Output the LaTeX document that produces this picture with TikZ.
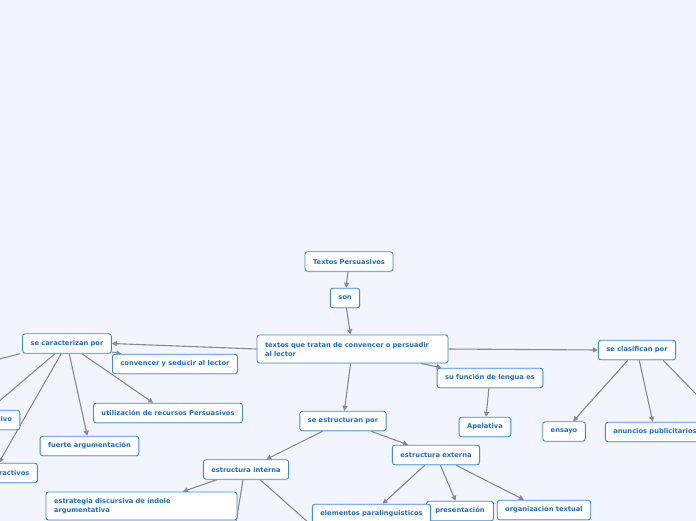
\documentclass[tikz,border=0pt]{standalone}
\usepackage{fontspec}
\setmainfont{DejaVu Sans}
\usepackage{xcolor}
\usetikzlibrary{positioning, arrows.meta, shadows, backgrounds}

\definecolor{paper}{RGB}{242,245,254}
\definecolor{topicline}{RGB}{58,140,230}
\definecolor{topictext}{RGB}{28,108,208}
\definecolor{linkgray}{RGB}{138,138,142}

\begin{document}
\begin{tikzpicture}[
  x=1pt, y=-1pt,
  every node/.style={font=\bfseries\fontsize{6.7}{9}\selectfont},
  topic/.style={draw=topicline, line width=0.9pt, fill=white, rounded corners=2.5pt,
    text=topictext, inner xsep=8pt, inner ysep=2pt, minimum height=19.5pt,
    drop shadow={opacity=0.12, shadow xshift=0.4pt, shadow yshift=-1pt}},
  wide/.style={topic, text width=175pt, align=left, minimum height=28pt},
  arrow/.style={linkgray, line width=1.1pt, -{Triangle[length=5pt, width=5pt]}}
]
\useasboundingbox (0,0) rectangle (696,520);
\clip (0,0) rectangle (696,520);

% Nodes
\node[topic] (title) at (349,261.5) {Textos Persuasivos};
\node[topic] (son) at (345,298) {son};
\node[wide] (txt) at (352.5,349) {textos que tratan de convencer o persuadir\\al lector};

\node[topic] (car) at (67,343.5) {se caracterizan por};
\node[topic] (conv) at (175,364) {convencer y seducir al lector};
\node[topic] (util) at (168,413) {utilización de recursos Persuasivos};
\node[topic] (fuerte) at (89.5,446) {fuerte argumentación};
\node[topic] (subj) at (-23,420) {lenguaje subjetivo};
\node[topic] (atrac) at (-7,473) {recursos atractivos};

\node[topic] (estr) at (343,421) {se estructuran por};
\node[topic] (int) at (246,469.5) {estructura interna};
\node[wide] (strat) at (141.5,506) {estrategia discursiva de índole\\argumentativa};
\node[topic] (ext) at (436,455) {estructura externa};
\node[topic, minimum width=67pt] (pres) at (460,511) {presentación};
\node[topic] (para) at (371.5,514) {elementos paralinguisticos};
\node[topic] (org) at (544,510) {organización textual};

\node[topic] (func) at (490,378) {su función de lengua es};
\node[topic] (apel) at (485,427) {Apelativa};

\node[topic] (cla) at (637,350) {se clasifican por};
\node[topic] (ens) at (564,431.5) {ensayo};
\node[topic] (anun) at (655,432) {anuncios publicitarios};

\coordinate (offL) at (-60,374);
\coordinate (offB1) at (230,560);
\coordinate (offB2) at (335,546);
\coordinate (offR) at (740,439);

% Arrows
\begin{pgfonlayer}{background}
\fill[paper] (-20,-20) rectangle (720,560);
\draw[arrow] (title) -- (son);
\draw[arrow] (son) -- (txt);
\draw[arrow] (txt.west) -- (car.east);
\draw[arrow] (txt) -- (func);
\draw[arrow] (txt) -- (estr);
\draw[arrow] (txt.east) -- (cla.west);
\draw[arrow] (car) -- (conv);
\draw[arrow] (car) -- (util);
\draw[arrow] (car) -- (fuerte);
\draw[arrow] (car) -- (subj);
\draw[arrow] (car) -- (atrac);
\draw[arrow] ([xshift=-2pt]car.south west) -- (offL);
\draw[arrow] (estr) -- (int);
\draw[arrow] (estr) -- (ext);
\draw[arrow] (int) -- (strat);
\draw[arrow] ([xshift=-3pt]int.south) -- (offB1);
\draw[arrow] ([xshift=14pt]int.south) -- (offB2);
\draw[arrow] (ext) -- (para);
\draw[arrow] (ext) -- (pres);
\draw[arrow] (ext) -- (org);
\draw[arrow] (func) -- (apel);
\draw[arrow] (cla) -- (ens);
\draw[arrow] (cla) -- (anun);
\draw[arrow] ([xshift=-13pt]cla.south east) -- (offR);
\end{pgfonlayer}

\end{tikzpicture}
\end{document}
